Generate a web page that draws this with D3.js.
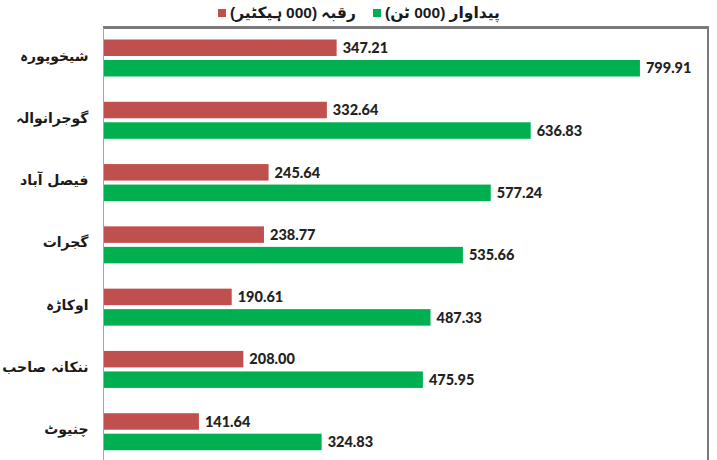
<!DOCTYPE html>
<html>
<head>
<meta charset="utf-8">
<script src="https://cdnjs.cloudflare.com/ajax/libs/d3/7.8.5/d3.min.js"></script>
<style>
  body { margin: 0; background: #fff; }
  svg { display: block; }
</style>
</head>
<body>
<script>
var width = 717,
    height = 460;

// districts, top to bottom
var districts = ["شیخوپورہ", "گوجرانوالہ", "فیصل آباد", "گجرات", "اوکاڑہ", "ننکانہ صاحب", "چنیوٹ"];
var area = [347.21, 332.64, 245.64, 238.77, 190.61, 208.00, 141.64];        // 000 hectare
var production = [799.91, 636.83, 577.24, 535.66, 487.33, 475.95, 324.83];  // 000 tonnes
var seriesNames = ["رقبہ (000 ہیکٹیر)", "پیداوار (000 ٹن)"];
var seriesColors = ["#C0504D", "#00B050"];

var data = districts.map(function (d, i) {
    return { name: d, values: [area[i], production[i]] };
});

var x = d3.scaleLinear()
    .domain([0, 900])
    .range([104, 707]);

var y0 = d3.scaleBand()
    .domain(districts)
    .range([28, 464]);

var y1 = d3.scaleBand()
    .domain([0, 1])
    .range([11.5, 48.5])
    .paddingInner(0.195);

var svg = d3.select("body").append("svg")
    .attr("width", width)
    .attr("height", height)
    .style("font-family", "'Liberation Sans', 'DejaVu Sans', sans-serif");

// plot frame: top and right edges (bottom falls outside the picture)
svg.append("rect")
    .attr("x", 103)
    .attr("y", 26)
    .attr("width", 606)
    .attr("height", 3)
    .attr("fill", "#7a7a7a");
svg.append("rect")
    .attr("x", 707)
    .attr("y", 26)
    .attr("width", 2)
    .attr("height", height - 26)
    .attr("fill", "#7a7a7a");

var group = svg.selectAll(".group")
    .data(data)
    .enter().append("g")
    .attr("class", "group")
    .attr("transform", function (d) { return "translate(0," + y0(d.name) + ")"; });

group.selectAll("rect")
    .data(function (d) { return d.values; })
    .enter().append("rect")
    .attr("x", x(0))
    .attr("y", function (d, i) { return y1(i); })
    .attr("width", function (d) { return x(d) - x(0); })
    .attr("height", y1.bandwidth())
    .attr("fill", function (d, i) { return seriesColors[i]; });

group.selectAll(".val")
    .data(function (d) { return d.values; })
    .enter().append("text")
    .attr("class", "val")
    .attr("x", function (d) { return x(d) + 6; })
    .attr("y", function (d, i) { return y1(i) + y1.bandwidth() / 2; })
    .attr("dy", "0.36em")
    .style("font-family", "Lato, 'Liberation Sans', sans-serif")
    .style("font-weight", "900")
    .style("font-size", "14.5px")
    .style("fill", "#222")
    .text(function (d) { return d.toFixed(2); });

// category axis
var yAxis = d3.axisLeft(y0).tickSize(0).tickPadding(15);
var gy = svg.append("g")
    .attr("transform", "translate(103.5,0)")
    .call(yAxis);
gy.select(".domain").attr("stroke", "#a6a6a6").attr("d", "M0,28V" + height);
// rtl text: "start" anchors the right edge
gy.selectAll("text")
    .attr("direction", "rtl")
    .attr("text-anchor", "start")
    .attr("dy", "0.1em")
    .style("font-size", "14px")
    .style("font-weight", "bold")
    .style("fill", "#1a1a1a")
    .style("font-family", "'DejaVu Sans', sans-serif");

// legend
var legendX = [218, 373];
var legend = svg.selectAll(".legend")
    .data(seriesNames)
    .enter().append("g")
    .attr("class", "legend")
    .attr("transform", function (d, i) { return "translate(" + legendX[i] + ",13)"; });

legend.append("rect")
    .attr("x", 0)
    .attr("y", -4)
    .attr("width", 8)
    .attr("height", 8)
    .attr("fill", function (d, i) { return seriesColors[i]; });

legend.append("text")
    .attr("x", 12)
    .attr("dy", "0.35em")
    .attr("direction", "rtl")
    .attr("text-anchor", "end")
    .style("font-size", "15.5px")
    .style("font-weight", "bold")
    .style("fill", "#1a1a1a")
    .text(function (d) { return d; });
</script>
</body>
</html>
